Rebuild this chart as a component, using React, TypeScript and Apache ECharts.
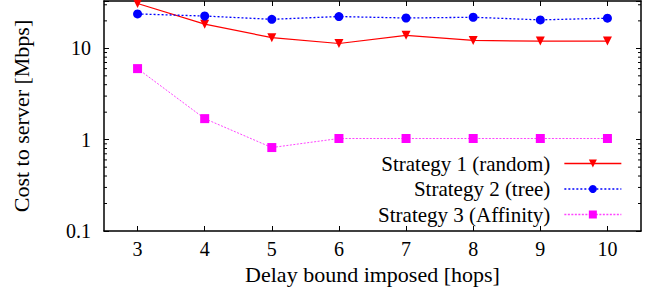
import React, { useEffect, useRef } from "react";
import * as echarts from "echarts";

const categories = ["3", "4", "5", "6", "7", "8", "9", "10"];
const strategy1 = [31, 18.4, 13.1, 11.3, 13.9, 12.2, 12.0, 12.0];
const strategy2 = [23.8, 22.6, 20.8, 22.3, 21.5, 21.9, 20.5, 21.4];
const strategy3 = [6.0, 1.7, 0.82, 1.03, 1.03, 1.03, 1.03, 1.03];
const minorTicks = [0.2, 0.3, 0.4, 0.5, 0.6, 0.7, 0.8, 0.9, 2, 3, 4, 5, 6, 7, 8, 9, 20, 30];
const Y_MIN = 0.1;
const Y_MAX = 33;

const FONT = "Times New Roman, Liberation Serif, serif";

export default function App() {
  const ref = useRef<HTMLDivElement>(null);
  useEffect(() => {
    const chart = echarts.init(ref.current!, null, { renderer: "svg" });
    const isPow10 = (v: number) => Math.abs(Math.log10(v) - Math.round(Math.log10(v))) < 1e-6;
    const fmt = (v: number) => (isPow10(v) ? String(Number(v.toPrecision(6))) : "");
    chart.setOption({
      animation: false,
      textStyle: { fontFamily: FONT },
      grid: { left: 104, right: 9, top: 1, bottom: 67 },
      legend: {
        orient: "vertical",
        right: 23,
        top: 148,
        align: "right",
        itemWidth: 57,
        itemHeight: 10,
        itemGap: 4.5,
        lineStyle: { width: 1.3 },
        data: ["Strategy 1 (random)", "Strategy 2 (tree)", "Strategy 3 (Affinity)"],
        textStyle: { fontFamily: FONT, fontSize: 21, color: "#000", padding: [0, 9, 0, 0] },
      },
      xAxis: [
        {
          type: "category",
          data: categories,
          boundaryGap: true,
          name: "Delay bound imposed [hops]",
          nameLocation: "middle",
          nameGap: 28,
          nameTextStyle: { fontFamily: FONT, fontSize: 22, color: "#000" },
          axisLine: { show: true, lineStyle: { color: "#000", width: 1.5 } },
          axisTick: { show: true, inside: true, alignWithLabel: true, length: 5, lineStyle: { color: "#000" } },
          axisLabel: { fontFamily: FONT, fontSize: 20, color: "#000", margin: 8 },
          splitLine: { show: false },
        },
        {
          type: "category",
          data: categories,
          boundaryGap: true,
          position: "top",
          axisLine: { show: true, lineStyle: { color: "#000", width: 1.5 } },
          axisTick: { show: true, inside: true, alignWithLabel: true, length: 5, lineStyle: { color: "#000" } },
          axisLabel: { show: false },
          splitLine: { show: false },
        },
      ],
      yAxis: [
        {
          type: "log",
          min: Y_MIN,
          max: Y_MAX,
          logBase: 10,
          name: "Cost to server [Mbps]",
          nameLocation: "middle",
          nameGap: 72,
          nameTextStyle: { fontFamily: FONT, fontSize: 22, color: "#000" },
          axisLine: { show: true, lineStyle: { color: "#000", width: 1.5 } },
          axisTick: { show: true, inside: true, length: 5, lineStyle: { color: "#000" } },
          axisLabel: { fontFamily: FONT, fontSize: 20, color: "#000", margin: 13, formatter: fmt },
          splitLine: { show: false },
        },
        {
          type: "log",
          min: Y_MIN,
          max: Y_MAX,
          logBase: 10,
          position: "right",
          axisLine: { show: true, lineStyle: { color: "#000", width: 1.5 } },
          axisTick: { show: true, inside: true, length: 5, lineStyle: { color: "#000" } },
          axisLabel: { show: false },
          splitLine: { show: false },
        },
      ],
      series: [
        {
          name: "Strategy 1 (random)",
          type: "line",
          data: strategy1,
          symbol: "triangle",
          symbolRotate: 180,
          symbolSize: 9,
          lineStyle: { color: "#ff0000", width: 1.2, type: "solid" },
          itemStyle: { color: "#ff0000" },
        },
        {
          name: "Strategy 2 (tree)",
          type: "line",
          data: strategy2,
          symbol: "circle",
          symbolSize: 9,
          lineStyle: { color: "#0000ff", width: 1.3, type: [2, 2] },
          itemStyle: { color: "#0000ff" },
        },
        {
          name: "Strategy 3 (Affinity)",
          type: "line",
          data: strategy3,
          symbol: "rect",
          symbolSize: 9,
          lineStyle: { color: "#ff44ff", width: 1, type: [2, 1.5] },
          itemStyle: { color: "#ff00ff" },
        },
        {
          name: "minor",
          type: "custom",
          silent: true,
          data: minorTicks.map((v) => [0, v]),
          renderItem: (params: any, api: any) => {
            const y = api.coord([0, api.value(1)])[1];
            const cs = params.coordSys;
            return {
              type: "group",
              children: [
                { type: "line", shape: { x1: cs.x, y1: y, x2: cs.x + 3, y2: y }, style: { stroke: "#000", lineWidth: 1 } },
                { type: "line", shape: { x1: cs.x + cs.width, y1: y, x2: cs.x + cs.width - 3, y2: y }, style: { stroke: "#000", lineWidth: 1 } },
              ],
            };
          },
        },
      ],
    });
    return () => chart.dispose();
  }, []);
  return <div ref={ref} style={{ width: 650, height: 298, position: "absolute", left: 0, top: 0 }} />;
}
